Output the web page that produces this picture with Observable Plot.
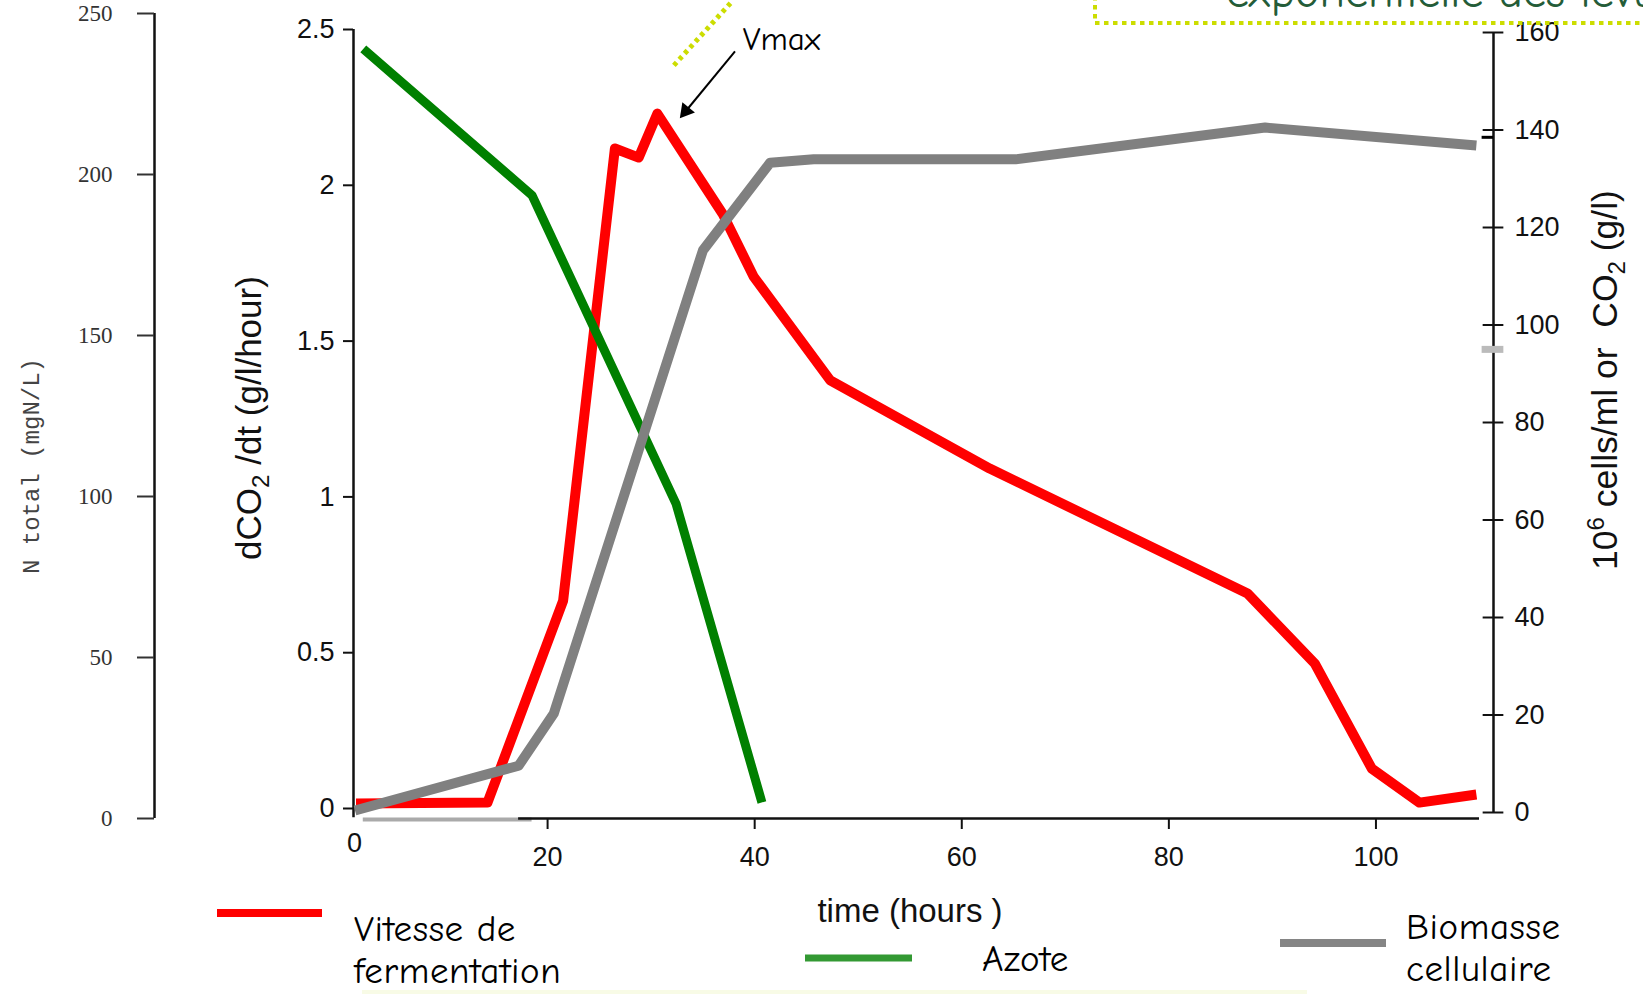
<!DOCTYPE html>
<html><head><meta charset="utf-8">
<script src="https://cdn.jsdelivr.net/npm/d3@7"></script>
<script src="https://cdn.jsdelivr.net/npm/@observablehq/plot@0.6"></script>
<style>
html,body{margin:0;padding:0;background:#fff;overflow:hidden}
#wrap{position:relative;width:1643px;height:994px;overflow:hidden;background:#fff}
#wrap svg{position:absolute;left:0;top:0}
</style></head><body><div id="wrap"></div>
<script>
// ---- data ----
const vitesseTime  = [1.5, 14.2, 21.5, 26.5, 28.8, 30.6, 36.9, 39.9, 47.3, 62.7, 87.6, 94.1, 99.6, 104.2, 109.7];
const vitesseValue = [0.016, 0.019, 0.667, 2.118, 2.089, 2.230, 1.909, 1.707, 1.374, 1.091, 0.690, 0.465, 0.128, 0.019, 0.045];
const azoteTime  = [2.2, 18.5, 32.4, 40.7];
const azoteValue = [239, 193.5, 97.8, 5];
const biomasseTime  = [1.4, 17.2, 20.6, 35.0, 41.5, 45.7, 65.2, 89.3, 109.7];
const biomasseValue = [0.4, 9.6, 20.3, 115.3, 133.3, 134, 134, 140.5, 136.8];
const timeTicks = [20, 40, 60, 80, 100];
const rateTicks = [0, 0.5, 1, 1.5, 2, 2.5];
const nitrogenTicks = [0, 50, 100, 150, 200, 250];
const cellTicks = [0, 20, 40, 60, 80, 100, 120, 140, 160];
const legendLabels = [["Vitesse de", "fermentation"], ["Azote"], ["Biomasse", "cellulaire"]];
const vmaxArrow = [{x1: 38.1, y1: 2.43, x2: 33.0, y2: 2.224}];
const vmaxLabel = [{t: 42.6, v: 2.468, label: "Vmax"}];
const phaseLine = [{x1: 32.2, y1: 2.385, x2: 37.9, y2: 2.593}];

// ---- tables ----
const vitesse = vitesseTime.map((t, i) => ({t, v: vitesseValue[i]}));
const azote = azoteTime.map((t, i) => ({t, v: azoteValue[i]}));
const biomasse = biomasseTime.map((t, i) => ({t, v: biomasseValue[i]}));

const W = 1643, H = 994;
const mL = 340, mR = W - 1479;
const sans = "'Liberation Sans', Arial, Helvetica, sans-serif";
const comic = "'Comic Sans MS', 'Comic Neue', 'Noto Sans', sans-serif";
const wrap = document.getElementById("wrap");
const fmt = d => String(d);

// Plot A: fermentation rate (dCO2/dt) + time axis + annotations
const plotA = Plot.plot({
  width: W, height: H, marginLeft: mL, marginRight: mR, marginTop: 29, marginBottom: H - 808,
  x: {domain: [0, 110]}, y: {domain: [0, 2.5]},
  style: {background: "transparent", overflow: "visible", fontFamily: sans, color: "#111"},
  marks: [
    Plot.ruleX([0], {y1: -0.03, y2: 2.5, dx: 13, stroke: "#111", strokeWidth: 2.5}),
    Plot.axisY({ticks: rateTicks, anchor: "left", dx: 13, tickSize: 10, tickPadding: 9, tickFormat: fmt, fontSize: 27, label: null, strokeWidth: 2}),
    Plot.ruleY([0], {x1: 2.2, x2: 18.5, dy: 11, stroke: "#aaa", strokeWidth: 4}),
    Plot.ruleY([0], {x1: 17.2, x2: 110, dy: 10, stroke: "#111", strokeWidth: 2.5}),
    Plot.axisX({ticks: timeTicks, anchor: "bottom", dy: 10, tickSize: 11, tickPadding: 17, tickFormat: fmt, fontSize: 27, label: null, strokeWidth: 2}),
    Plot.text([{t: 0, v: 0, label: "0"}], {x: "t", y: "v", text: "label", dx: 14, dy: 35, fontSize: 27}),
    Plot.line(vitesse, {x: "t", y: "v", stroke: "#ff0000", strokeWidth: 10, strokeLinejoin: "round", strokeLinecap: "butt"}),
    Plot.link(phaseLine, {x1: "x1", y1: "y1", x2: "x2", y2: "y2", stroke: "#ccdd00", strokeWidth: 5, strokeDasharray: "4,4"}),
    Plot.link(vmaxArrow, {x1: "x1", y1: "y1", x2: "x2", y2: "y2", stroke: "#000", strokeWidth: 2}),
    Plot.dot(vmaxArrow, {x: "x2", y: "y2", symbol: "triangle", r: 6, fill: "#000", stroke: null, rotate: 219, dx: 3.5, dy: -4.5}),
    Plot.text(vmaxLabel, {x: "t", y: "v", text: "label", fontSize: 33, fontFamily: comic, fill: "#000"})
  ]
});

// Plot B: nitrogen (Azote), left-most axis
const plotB = Plot.plot({
  width: W, height: H, marginLeft: mL, marginRight: mR, marginTop: 13, marginBottom: H - 818,
  x: {domain: [0, 110], axis: null}, y: {domain: [0, 250]},
  style: {background: "transparent", overflow: "visible", color: "#333"},
  marks: [
    Plot.ruleX([0], {y1: 0, y2: 250, dx: -186, stroke: "#111", strokeWidth: 2.5}),
    Plot.axisY({ticks: nitrogenTicks, anchor: "left", dx: -186, tickSize: 17, tickPadding: 25, tickFormat: fmt, fontSize: 23, fontFamily: "'Liberation Serif', serif", label: null, strokeWidth: 2}),
    Plot.line(azote, {x: "t", y: "v", stroke: "#008000", strokeWidth: 9, strokeLinejoin: "round", strokeLinecap: "butt"})
  ]
});

// Plot C: biomass, right axis
const plotC = Plot.plot({
  width: W, height: H, marginLeft: mL, marginRight: mR, marginTop: 32, marginBottom: H - 812,
  x: {domain: [0, 110], axis: null}, y: {domain: [0, 160]},
  style: {background: "transparent", overflow: "visible", fontFamily: sans, color: "#111"},
  marks: [
    Plot.ruleX([110], {y1: 0, y2: 160, dx: 14, stroke: "#111", strokeWidth: 2.5}),
    Plot.ruleY(cellTicks, {x1: 109, x2: 111, dx: 14, stroke: "#111", strokeWidth: 2}),
    Plot.ruleY([138.5], {x1: 108.9, x2: 110, dx: 14, stroke: "#000", strokeWidth: 3}),
    Plot.ruleY([95.0], {x1: 108.9, x2: 111, dx: 14, stroke: "#bbb", strokeWidth: 7}),
    Plot.axisY({ticks: cellTicks, anchor: "right", dx: 14, tickSize: 0, tickPadding: 21, tickFormat: fmt, fontSize: 27, label: null}),
    Plot.line(biomasse, {x: "t", y: "v", stroke: "#808080", strokeWidth: 10, strokeLinejoin: "round", strokeLinecap: "butt"})
  ]
});

wrap.append(plotA, plotB, plotC);

// Overlay: axis titles, legend, decorations
const ns = "http://www.w3.org/2000/svg";
const ov = d3.select(wrap).append("svg").attr("width", W).attr("height", H).attr("xmlns", ns);

ov.append("rect").attr("x", 362).attr("y", 990).attr("width", 945).attr("height", 4).attr("fill", "#f8fbe6");

// top decorations
ov.append("line").attr("x1", 1095).attr("y1", -4).attr("x2", 1095).attr("y2", 23)
  .attr("stroke", "#ccdd00").attr("stroke-width", 4).attr("stroke-dasharray", "4.5,4.5");
ov.append("line").attr("x1", 1095).attr("y1", 23).attr("x2", W).attr("y2", 23)
  .attr("stroke", "#ccdd00").attr("stroke-width", 4).attr("stroke-dasharray", "4.5,4.5");
ov.append("text").attr("x", 1226).attr("y", 7).attr("fill", "#245c38")
  .attr("font-family", comic).attr("font-size", 46).text("exponentielle des levures");

// dCO2 axis title
const t1 = ov.append("text").attr("transform", "translate(249,418) rotate(-90)")
  .attr("text-anchor", "middle").attr("dy", "0.35em").attr("font-family", sans).attr("font-size", 35).attr("fill", "#111");
t1.append("tspan").text("dCO");
t1.append("tspan").attr("font-size", 24).attr("dy", 8).text("2");
t1.append("tspan").attr("dy", -8).text("\u00a0/dt (g/l/hour)");

// right axis title
const t2 = ov.append("text").attr("transform", "translate(1605,380) rotate(-90)")
  .attr("text-anchor", "middle").attr("dy", "0.35em").attr("font-family", sans).attr("font-size", 35.5).attr("fill", "#111");
t2.append("tspan").text("10");
t2.append("tspan").attr("font-size", 24).attr("dy", -13).text("6");
t2.append("tspan").attr("dy", 13).text(" cells/ml or\u00a0\u00a0CO");
t2.append("tspan").attr("font-size", 24).attr("dy", 8).text("2");
t2.append("tspan").attr("dy", -8).text(" (g/l)");

// N total title
ov.append("text").attr("transform", "translate(31,466) rotate(-90)")
  .attr("text-anchor", "middle").attr("dy", "0.35em").attr("font-family", "'Liberation Mono', monospace")
  .attr("font-size", 24).attr("fill", "#444").text("N total (mgN/L)");

// time axis title
ov.append("text").attr("x", 910).attr("y", 910).attr("text-anchor", "middle").attr("dy", "0.35em")
  .attr("font-family", sans).attr("font-size", 33).attr("fill", "#111").text("time (hours )");

// legend
const legend = [
  {x1: 217, x2: 322, y: 913, color: "#ff0000", w: 8, tx: 354, ty: 941, lines: legendLabels[0]},
  {x1: 805, x2: 912, y: 958, color: "#339933", w: 7, tx: 982, ty: 971, lines: legendLabels[1]},
  {x1: 1280, x2: 1386, y: 943, color: "#858585", w: 8, tx: 1406, ty: 939, lines: legendLabels[2]}
];
legend.forEach(l => {
  ov.append("line").attr("x1", l.x1).attr("x2", l.x2).attr("y1", l.y).attr("y2", l.y)
    .attr("stroke", l.color).attr("stroke-width", l.w);
  l.lines.forEach((s, i) => {
    ov.append("text").attr("x", l.tx).attr("y", l.ty + i * 42).attr("font-family", comic)
      .attr("font-size", 37).attr("letter-spacing", 0.6).attr("fill", "#000").text(s);
  });
});
</script></body></html>
